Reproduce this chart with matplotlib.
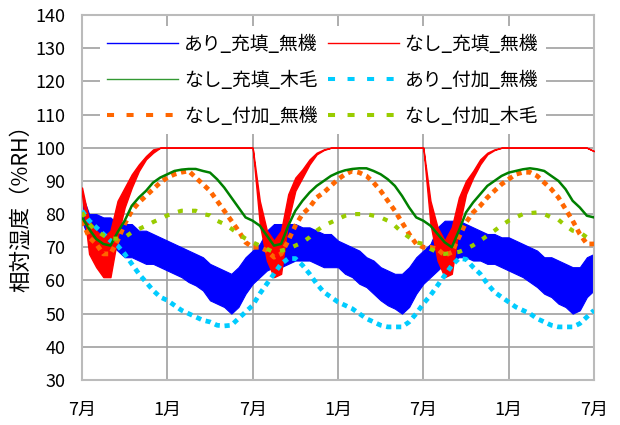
import numpy as np
import matplotlib
matplotlib.use("Agg")
import matplotlib.pyplot as plt
from matplotlib.lines import Line2D

plt.rcParams['font.family'] = ['Noto Sans CJK JP', 'DejaVu Sans']

# months from the first July, half-month steps (0 .. 36)
months = np.arange(73) * 0.5
tick_pos = [0, 6, 12, 18, 24, 30, 36]
tick_labels = ["7月", "1月", "7月", "1月", "7月", "1月", "7月"]

labels = ["あり_充填_無機", "なし_充填_無機", "なし_充填_木毛",
          "あり_付加_無機", "なし_付加_無機", "なし_付加_木毛"]

# あり_充填_無機 (noisy: upper / lower envelope)
blue_hi = [86, 80, 80, 79, 79, 77, 77, 77, 75, 75, 74, 73, 72, 71, 70, 69, 68, 67, 65, 64, 63, 62, 64, 67,
           69, 71, 75, 77, 77, 77, 77, 76, 76, 75, 74, 74, 72, 71, 70, 69, 67, 66, 64, 63, 62, 62, 64, 67,
           69, 71, 76, 78, 78, 78, 77, 76, 75, 74, 74, 73, 73, 72, 71, 70, 69, 67, 67, 66, 65, 64, 64, 67,
           68]
blue_lo = [78, 72, 71, 71, 71, 69, 67, 67, 66, 65, 65, 64, 63, 62, 61, 59.5, 58.5, 57, 54, 53, 52, 50, 52, 56,
           59, 61, 63, 64, 64, 65, 66, 66, 66, 65, 64, 64, 64, 62, 61, 59, 58, 56, 54, 52.5, 51.5, 50, 52, 56,
           59, 61, 63, 65, 66, 67, 67, 66, 66, 65, 65, 64, 63, 62, 61, 59.5, 58, 56, 55, 53, 52, 50, 51, 55,
           57]

# なし_充填_無機 (noisy near the dips)
red_hi = [88, 78, 75, 73, 75, 84, 88, 92, 95, 97.5, 99.5, 100, 100, 100, 100, 100, 100, 100, 100, 100, 100, 100, 100, 100,
          100, 84, 75, 72, 75, 86, 91, 93.5, 96.5, 98.5, 99.5, 100, 100, 100, 100, 100, 100, 100, 100, 100, 100, 100, 100, 100,
          100, 84, 76, 72, 76, 85, 90, 93, 96.5, 98.5, 99.5, 100, 100, 100, 100, 100, 100, 100, 100, 100, 100, 100, 100, 100,
          99]
red_lo = [86, 68, 64, 61, 61, 73, 82, 88, 93, 96.5, 98.5, 100, 100, 100, 100, 100, 100, 100, 100, 100, 100, 100, 100, 100,
          100, 77, 66, 61, 62, 78, 87, 91, 95, 98, 99.3, 100, 100, 100, 100, 100, 100, 100, 100, 100, 100, 100, 100, 100,
          100, 77, 66, 61, 62, 76, 86, 91, 95, 98, 99.3, 100, 100, 100, 100, 100, 100, 100, 100, 100, 100, 100, 100, 100,
          99]

# なし_充填_木毛
green = [79, 75.5, 72.5, 71, 70.5, 74.5, 78, 82.5, 85, 87, 89.5, 91, 92, 93, 93.4, 93.6, 93.6, 93, 92.5, 90.5, 88, 85, 82, 79,
         78, 76.5, 73.5, 70.5, 71, 76.5, 81, 84, 86.5, 88.5, 90, 91.5, 92.5, 93.2, 93.6, 93.8, 93.8, 93, 92, 90.5, 88.5, 85.5, 82, 79,
         78, 76.5, 74, 71.5, 70, 75, 80.5, 83.5, 86, 88.5, 90, 91.5, 92.5, 93, 93.5, 93.8, 93.5, 93, 91.5, 90, 87.5, 84, 82, 79.5,
         79]

# あり_付加_無機
cyan = [81, 78, 76, 74, 72, 70.5, 68, 65, 62, 59.5, 57, 55, 54, 52.5, 51, 50, 49, 48, 47.5, 46.5, 46.3, 46.5, 48.5, 50.5,
        52.5, 56, 59, 62, 65, 66.6, 66.6, 64.6, 62, 59, 56.5, 55, 53.5, 52.5, 51.5, 50, 48.5, 47.5, 46.5, 46, 46, 46, 47.5, 50,
        53, 55.5, 58.5, 61.5, 64.5, 66.6, 66.4, 64, 62, 59, 56.5, 55, 53.5, 52, 51, 50, 48.5, 47.5, 46.5, 46, 46, 46, 47, 49,
        51]

# なし_付加_無機
orange = [78, 73, 71, 68, 68, 72, 77, 81, 83.5, 85.5, 87.5, 89.5, 91, 92, 92.6, 93, 91, 89, 87, 84, 81, 78, 75, 71.5,
          70, 70, 69, 67, 68, 72, 76.5, 80, 82, 85, 86.5, 88.5, 90.5, 92, 93, 92.5, 91.5, 89.5, 87, 84, 81, 77.5, 74, 71,
          70, 70, 69.5, 67.5, 68.5, 73, 77.5, 80.5, 82.5, 85, 87, 89, 90.5, 92, 92.6, 92.6, 91.5, 89.5, 87.5, 85, 81.5, 78, 74, 71,
          71]

# なし_付加_木毛
ygreen = [80.5, 77, 75, 73.6, 72.6, 72.6, 73, 74.5, 75.5, 76.5, 77.6, 78.6, 79.6, 80.4, 81, 81, 81, 80, 79.6, 78, 77, 75.6, 74, 72.6,
          71.5, 70.5, 69.5, 68.5, 69, 69.5, 70.5, 71.5, 73, 75, 76.5, 77.5, 78.5, 79.5, 80, 80, 80, 79.5, 79, 78, 76.5, 74.5, 73, 71.5,
          71, 69.5, 68.5, 68, 68.3, 68.6, 69.5, 70.6, 72, 73.5, 75, 76.6, 78, 79, 80, 80.3, 80.5, 80, 79, 78.3, 76.5, 75, 74.5, 73,
          72.5]

C_BLUE, C_RED, C_GREEN = "#0000FF", "#FF0000", "#008000"
C_CYAN, C_ORANGE, C_YG = "#00CCFF", "#FF6600", "#99CC00"

fig = plt.figure(figsize=(6.2, 4.25), dpi=100)
ax = fig.add_axes([82/620, 1 - 380/425, (594-82)/620, (380-15)/425])

ax.fill_between(months, blue_lo, blue_hi, color=C_BLUE, lw=0.8, zorder=2)
ax.fill_between(months, red_lo, red_hi, color=C_RED, lw=1.0, zorder=3)
dash = (1.1, 1.0)
ax.plot(months, cyan, color=C_CYAN, lw=3.4, dashes=dash, dash_capstyle='butt', zorder=4)
ax.plot(months, orange, color=C_ORANGE, lw=3.4, dashes=dash, dash_capstyle='butt', zorder=5)
ax.plot(months, green, color=C_GREEN, lw=1.8, zorder=6)
ax.plot(months, ygreen, color=C_YG, lw=3.0, dashes=(1.2, 2.2), dash_capstyle='butt', zorder=7)

ax.set_xlim(0, 36)
ax.set_ylim(30, 140)
ax.set_yticks(np.arange(30, 141, 10))
ax.set_xticks(tick_pos)
ax.set_xticklabels(tick_labels)
ax.tick_params(axis='both', length=0, labelsize=13, colors='black')
ax.tick_params(axis='y', pad=12)
ax.tick_params(axis='x', pad=15)
ax.grid(True, color='#A0A0A0', lw=1.2, zorder=0)
ax.set_axisbelow(True)
for s in ax.spines.values():
    s.set_color('#BBBBBB')
    s.set_linewidth(1.5)

ax.set_ylabel("相対湿度（%RH）", fontsize=15.5)
ax.yaxis.set_label_coords(-0.097, 0.485)

handles = [
    Line2D([], [], color=C_BLUE, lw=1.0),
    Line2D([], [], color=C_GREEN, lw=1.0, alpha=0.8),
    Line2D([], [], color=C_ORANGE, lw=2.9, dashes=(1.75, 3.1), dash_capstyle='butt'),
    Line2D([], [], color=C_RED, lw=1.0),
    Line2D([], [], color=C_CYAN, lw=2.9, dashes=(1.75, 3.1), dash_capstyle='butt'),
    Line2D([], [], color=C_YG, lw=2.9, dashes=(1.75, 3.1), dash_capstyle='butt'),
]
leg_labels = [labels[0], labels[2], labels[4], labels[1], labels[3], labels[5]]
leg = ax.legend(handles, leg_labels, ncol=2, loc='upper left',
                bbox_to_anchor=(0.016, 0.995), fontsize=13.5, frameon=True,
                handlelength=3.8, handletextpad=0.3, columnspacing=0.55,
                labelspacing=0.8, borderpad=0.4)
leg.get_frame().set_facecolor('white')
leg.get_frame().set_edgecolor('none')
leg.get_frame().set_alpha(1.0)
leg.get_frame().set_boxstyle('square', pad=0)

fig.savefig("out.png", dpi=100)
